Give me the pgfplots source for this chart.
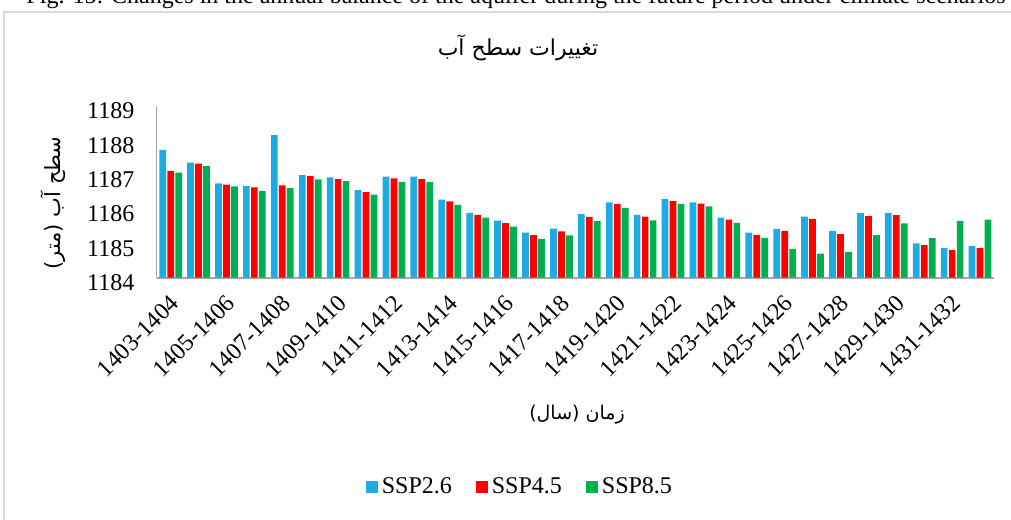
\documentclass[border=0pt]{standalone}
\usepackage{pgfplots}
\usepackage{pgfplotstable}
\pgfplotsset{compat=1.18}
\usepackage{fontspec}
\setmainfont{Liberation Serif}
\newfontfamily\arabicfont[Script=Arabic]{DejaVu Sans}
\TeXXeTstate=1
\definecolor{sspblue}{RGB}{29,171,226}
\definecolor{sspred}{RGB}{255,0,0}
\definecolor{sspgreen}{RGB}{0,176,80}
\pgfplotstableread{
idx b r g
0 1187.72 1187.11 1187.06
1 1187.35 1187.32 1187.25
2 1186.75 1186.71 1186.66
3 1186.67 1186.63 1186.52
4 1188.15 1186.69 1186.61
5 1186.99 1186.96 1186.86
6 1186.92 1186.87 1186.81
7 1186.55 1186.49 1186.42
8 1186.94 1186.89 1186.79
9 1186.94 1186.87 1186.78
10 1186.27 1186.22 1186.12
11 1185.89 1185.83 1185.75
12 1185.66 1185.59 1185.49
13 1185.31 1185.24 1185.13
14 1185.43 1185.35 1185.23
15 1185.85 1185.77 1185.65
16 1186.19 1186.14 1186.03
17 1185.83 1185.78 1185.67
18 1186.29 1186.23 1186.15
19 1186.19 1186.16 1186.08
20 1185.75 1185.69 1185.60
21 1185.31 1185.25 1185.16
22 1185.42 1185.36 1184.84
23 1185.78 1185.71 1184.70
24 1185.36 1185.27 1184.75
25 1185.88 1185.79 1185.24
26 1185.89 1185.82 1185.58
27 1185.00 1184.95 1185.15
28 1184.87 1184.81 1185.65
29 1184.93 1184.86 1185.69
}\datatable
\begin{document}
\begin{tikzpicture}
\useasboundingbox (0,0) rectangle (505.5pt,259.5pt);
\draw[gray!30, line width=0.7pt] (2pt,-5pt) -- (2pt,253.5pt) -- (520pt,253.5pt);
\node[anchor=base, font=\fontsize{12}{14}\selectfont, inner sep=0pt] at (258pt,257.5pt) {Fig. 15: Changes in the annual balance of the aquifer during the future period under climate scenarios};
\node[font=\arabicfont\fontsize{11}{13}\selectfont] at (259pt,235.5pt) {\beginR تغییرات سطح آب\endR};
\node[rotate=90, font=\arabicfont\fontsize{10.5}{12}\selectfont] at (26.5pt,158pt) {\beginR سطح آب (متر)\endR};
\node[font=\arabicfont\fontsize{9.5}{11}\selectfont] at (288.5pt,52pt) {\beginR زمان (سال)\endR};
\begin{axis}[
  at={(78.35pt,120.65pt)}, anchor=south west,
  width=418.65pt, height=85.85pt, scale only axis,
  ybar=0.65pt, bar width=3.35pt,
  xmin=-0.5, xmax=29.5, ymin=1184, ymax=1189,
  ytick={1184,1185,1186,1187,1188,1189},
  xtick={0,2,...,28},
  xticklabels={1403-1404,1405-1406,1407-1408,1409-1410,1411-1412,1413-1414,1415-1416,1417-1418,1419-1420,1421-1422,1423-1424,1425-1426,1427-1428,1429-1430,1431-1432},
  axis x line*=bottom, axis y line*=left,
  x axis line style={-, draw=gray!70, line width=1pt},
  y axis line style={-, draw=gray!70, line width=0.6pt},
  major tick length=0pt,
  tick label style={font=\fontsize{12}{14}\selectfont},
  /pgf/number format/assume math mode=true,
  /pgf/number format/1000 sep={},
  y tick label style={anchor=east, inner sep=0pt, xshift=-11pt, yshift=-2.5pt},
  x tick label style={rotate=45, anchor=east, inner sep=0pt, xshift=-6pt, yshift=-9pt},
  legend style={at={(0.435,-1.219)}, anchor=center, legend columns=3, draw=none,
    font=\fontsize{12}{14}\selectfont,
    /tikz/every even column/.append style={column sep=10pt}},
  legend image code/.code={\fill[#1] (0pt,-3pt) rectangle (6pt,3pt);},
]
\addplot[fill=sspblue, draw=none] table[x=idx, y=b] {\datatable};
\addplot[fill=sspred, draw=none] table[x=idx, y=r] {\datatable};
\addplot[fill=sspgreen, draw=none] table[x=idx, y=g] {\datatable};
\legend{SSP2.6, SSP4.5, SSP8.5}
\end{axis}
\end{tikzpicture}
\end{document}
